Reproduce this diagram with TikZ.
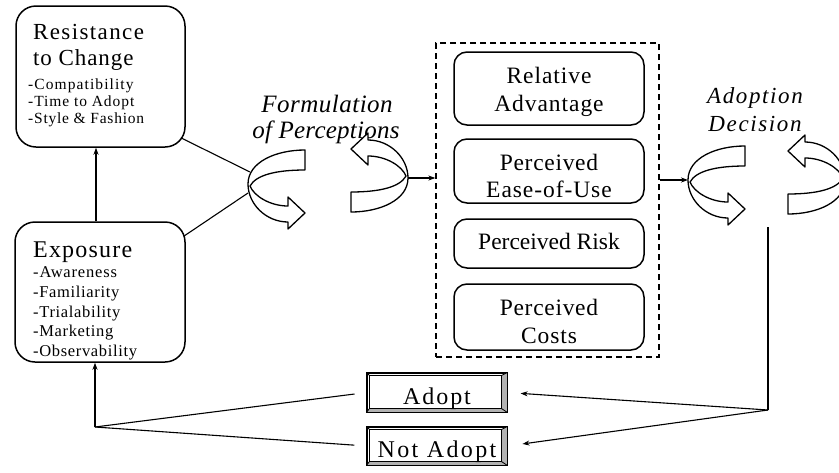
\documentclass[tikz,border=0pt]{standalone}
\usepackage{fontspec}
\setmainfont{Liberation Serif}
\usetikzlibrary{arrows.meta,calc}

% size and tracking in one go
\newcommand\fsz[2]{\fontsize{#1}{#1}\selectfont\addfontfeatures{LetterSpace=#2}}

\tikzset{
  rbox/.style={draw, line width=1.5, rounded corners=20, inner sep=0},
  pbox/.style={draw, line width=1.5, rounded corners=13, inner sep=0, minimum width=190},
  btn/.style={draw, line width=1.2, inner sep=0, minimum width=140},
  lab/.style={inner sep=0, anchor=base west},
  clab/.style={inner sep=0, anchor=base},
  conn/.style={line width=1.1},
  tip/.style={-{Stealth[length=7,width=5]}},
  twist/.pic={
    \draw[line width=1.3, fill=white, line join=round]
      (57,-34) .. controls (28,-34) and (0,-22) .. (0,0)
      .. controls (0,20) and (18,38) .. (40,38)
      -- (40,45) -- (57,29) -- (40,13) -- (40,22)
      .. controls (22,22) and (6,12) .. (2,2)
      .. controls (8,-9) and (28,-14) .. (57,-14) -- cycle;
  }
}

\begin{document}
\begin{tikzpicture}[x=1pt, y=-1pt]
  \fill[white] (0,0) rectangle (839,472);
  \useasboundingbox (0,0) rectangle (839,472);

  % left column
  \node[rbox, minimum width=169, minimum height=141] (res) at (100.5,76.5) {};
  \node[rbox, minimum width=170, minimum height=140] (expo) at (100,292) {};

  \node[lab] (r1) at (33,39) {\fsz{23}{6}Resistance};
  \node[lab] (r2) at (33,65) {\fsz{23}{4}to Change};
  \node[lab] (r3) at (28,89) {\fsz{15.5}{7}-Compatibility};
  \node[lab] (r4) at (28,106) {\fsz{15.5}{6}-Time to Adopt};
  \node[lab] (r5) at (28,123) {\fsz{15.5}{5}-Style \& Fashion};

  \node[lab] (e1) at (33,257) {\fsz{24}{5}Exposure};
  \node[lab] (e2) at (33,277) {\fsz{16.5}{5}-Awareness};
  \node[lab] (e3) at (33,297) {\fsz{16.5}{4}-Familiarity};
  \node[lab] (e4) at (33,317) {\fsz{16.5}{4}-Trialability};
  \node[lab] (e5) at (33,336) {\fsz{16.5}{4}-Marketing};
  \node[lab] (e6) at (33,356) {\fsz{16.5}{4}-Observability};

  % perception factors
  \node[draw, line width=1.3, dash pattern=on 6pt off 4pt, inner sep=0,
        minimum width=223, minimum height=314] (dash) at (547.5,200) {};
  \node[pbox, minimum height=73] (adv) at (549,88.5) {};
  \node[pbox, minimum height=64] (ease) at (549,171) {};
  \node[pbox, minimum height=49] (risk) at (549,243.5) {};
  \node[pbox, minimum height=66] (cost) at (549,317) {};

  \node[clab] (t1) at (549,83) {\fsz{23.5}{4}Relative};
  \node[clab] (t2) at (549,111) {\fsz{23.5}{4}Advantage};
  \node[clab] (t3) at (549,170) {\fsz{23.5}{3}Perceived};
  \node[clab] (t4) at (549,197) {\fsz{23.5}{4}Ease-of-Use};
  \node[clab] (t5) at (549,249) {\fsz{23.5}{0}Perceived Risk};
  \node[clab] (t6) at (549,315) {\fsz{23.5}{3}Perceived};
  \node[clab] (t7) at (549,343) {\fsz{23.5}{4}Costs};

  % stage captions
  \node[clab] (f1) at (327,112) {\fsz{25}{2}\itshape Formulation};
  \node[clab] (f2) at (326,138) {\fsz{25}{1}\itshape of Perceptions};
  \node[clab] (d1) at (755,103) {\fsz{23}{7}\itshape Adoption};
  \node[clab] (d2) at (755,131) {\fsz{23}{7}\itshape Decision};

  % outcome buttons
  \node[btn, minimum height=39] (adopt) at (437,392.5) {};
  \node[btn, minimum height=38] (notadopt) at (437,446) {};
  \foreach \b in {adopt,notadopt}{
    \coordinate (isw) at ($(\b.south west)+(3,-4)$);
    \coordinate (ine) at ($(\b.north east)+(-6,3)$);
    \coordinate (ise) at (isw -| ine);
    \coordinate (inw) at (ine -| isw);
    \fill[black!30] (\b.south east) -- (\b.north east) -- (ine) -- (ise) -- cycle;
    \fill[black!30] (\b.south west) -- (\b.south east) -- (ise) -- (isw) -- cycle;
    \draw[line width=1.1] (isw) rectangle (ine);
    \draw[line width=0.8] (\b.south west) -- (isw) (\b.south east) -- (ise)
      (\b.north east) -- (ine) (\b.north west) -- (inw);
    \draw[line width=1.3] (\b.south west) rectangle (\b.north east);
  }
  \node[clab] (b1) at (437,404) {\fsz{24}{8}Adopt};
  \node[clab] (b2) at (437,457) {\fsz{24}{10}Not Adopt};

  % twisted arrows
  \coordinate (fL) at (248,184);
  \coordinate (fR) at (408,178);
  \coordinate (aL) at (688,180);
  \coordinate (aR) at (845,180);
  \pic at (fL) {twist};
  \pic[rotate=180] at (fR) {twist};
  \pic at (aL) {twist};
  \pic[rotate=180] at (aR) {twist};

  % connectors
  \coordinate (vx) at (96,0);
  \draw[conn,tip] (vx |- expo.north) -- (vx |- res.south);
  \draw[conn] ($(res.south east)+(-5,-10)$) -- ($(fL)+(2,-12)$);
  \draw[conn] ($(expo.north east)+(-2,15)$) -- ($(fL)+(0,9)$);
  \draw[conn,tip] (fR) -- (fR -| dash.west);
  \draw[conn,tip] (dash.east |- aL) -- (aL);

  \coordinate (vtop) at (768,227);
  \coordinate (jr) at (768,410);
  \coordinate (jl) at (95,427);
  \draw[conn] (vtop) -- (jr);
  \draw[conn,tip,shorten >=13] (jr) -- (adopt.east);
  \draw[conn,tip,shorten >=15] (jr) -- (notadopt.east);
  \draw[conn,shorten >=12] (jl) -- (adopt.west);
  \draw[conn,shorten >=12] (jl) -- (notadopt.west);
  \draw[conn,tip] (jl) -- (jl |- expo.south);
\end{tikzpicture}
\end{document}
